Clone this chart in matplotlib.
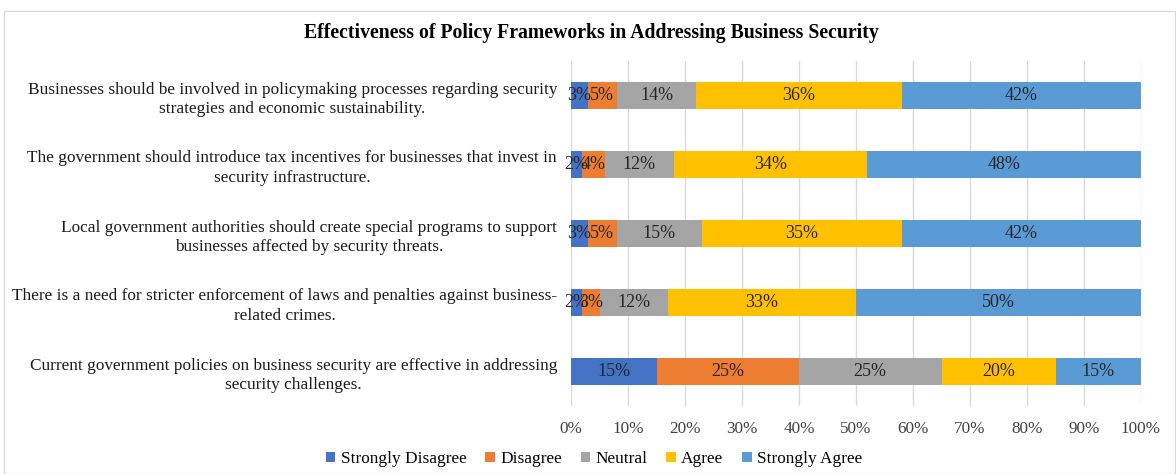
import matplotlib
matplotlib.use("Agg")
import matplotlib.pyplot as plt
from matplotlib.patches import Rectangle

plt.rcParams['font.family'] = ['Liberation Serif', 'DejaVu Serif']

categories = [
    "Businesses should be involved in policymaking processes regarding security\nstrategies and economic sustainability.",
    "The government should introduce tax incentives for businesses that invest in\nsecurity infrastructure.",
    "Local government authorities should create special programs to support\nbusinesses affected by security threats.",
    "There is a need for stricter enforcement of laws and penalties against business-\nrelated crimes.",
    "Current government policies on business security are effective in addressing\nsecurity challenges.",
]
series_names = ["Strongly Disagree", "Disagree", "Neutral", "Agree", "Strongly Agree"]
strongly_disagree = [3, 2, 3, 2, 15]
disagree = [5, 4, 5, 3, 25]
neutral = [14, 12, 15, 12, 25]
agree = [36, 34, 35, 33, 20]
strongly_agree = [42, 48, 42, 50, 15]
xtick_labels = ["0%", "10%", "20%", "30%", "40%", "50%", "60%", "70%", "80%", "90%", "100%"]
colors = ["#4472C4", "#ED7D31", "#A5A5A5", "#FFC000", "#5B9BD5"]
title = "Effectiveness of Policy Frameworks in Addressing Business Security"

series = [strongly_disagree, disagree, neutral, agree, strongly_agree]

fig = plt.figure(figsize=(11.76, 4.74), dpi=100)
fig.patches.append(Rectangle((4/1176, 0), 1 - 4/1176 - 0.001, 1 - 11/474, transform=fig.transFigure,
                             fill=False, edgecolor="#D9D9D9", linewidth=1))
ax = fig.add_axes([571/1176, 1 - 406/474, (1141 - 571)/1176, (406 - 61)/474])

n = len(categories)
ypos = list(range(n))[::-1]
left = [0.0] * n
for vals, name, c in zip(series, series_names, colors):
    fr = [v / 100 for v in vals]
    bars = ax.barh(ypos, fr, left=left, height=0.39, color=c, label=name, zorder=3)
    for b, v, l in zip(bars, vals, left):
        ax.text(l + v / 200, b.get_y() + b.get_height() / 2, f"{v}%", ha="center", va="center",
                fontsize=13, color="#262626", zorder=4)
    left = [l + f for l, f in zip(left, fr)]

ax.set_xlim(0, 1)
ax.set_ylim(-0.5, n - 0.5)
ax.set_xticks([i / 10 for i in range(11)])
ax.set_xticklabels(xtick_labels, fontsize=12.3, color="#404040")
ax.set_yticks(ypos)
ax.set_yticklabels(categories, fontsize=12.4, color="#1a1a1a", multialignment="center",
                   linespacing=1.3)
ax.tick_params(axis="x", length=0, pad=11)
ax.tick_params(axis="y", length=0, pad=10)
ax.xaxis.grid(True, color="#D9D9D9", linewidth=1, zorder=0)
for s in ax.spines.values():
    s.set_visible(False)

fig.text(591/1176, 1 - 33/474, title, ha="center", va="center", fontsize=14.2, fontweight="bold")

fig.legend(loc="center", bbox_to_anchor=(594/1176, 1 - 459/474), ncol=5, frameon=False,
           fontsize=12.4, handlelength=0.55, handleheight=0.55, handletextpad=0.3, columnspacing=1.1)

fig.savefig("out.png", dpi=100)
